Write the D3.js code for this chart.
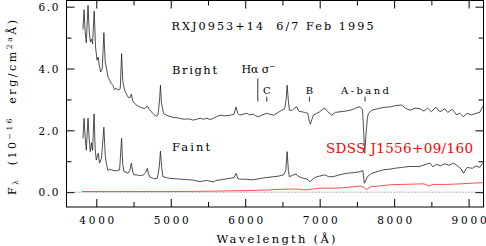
<!DOCTYPE html>
<html>
<head>
<meta charset="utf-8">
<script src="https://cdn.jsdelivr.net/npm/d3@7"></script>
<style>
body{margin:0;background:#fff;}
svg text{font-family:"DejaVu Serif","Liberation Serif",serif;fill:#000;white-space:pre;}
</style>
</head>
<body>
<div id="chart"></div>
<script>
// spectra (wavelength in A, flux in 1e-16 erg/cm2/s/A)
var brightWave = [3821,3836,3850,3866,3889,3905,3920,3935,3950,3972,
    3990,4010,4026,4040,4058,4080,4102,4120,4134,4157,
    4180,4200,4225,4245,4270,4290,4322,4340,4355,4380,
    4400,4425,4450,4471,4490,4515,4550,4580,4620,4650,
    4686,4710,4740,4770,4805,4830,4850,4862,4875,4903,
    4940,4990,5030,5100,5170,5240,5305,5350,5395,5440,
    5485,5530,5575,5620,5665,5730,5800,5850,5876,5900,
    5923,5970,6022,6060,6110,6140,6178,6230,6290,6330,
    6380,6430,6491,6530,6550,6563,6578,6593,6630,6660,
    6692,6720,6759,6800,6840,6860,6875,6895,6915,6960,
    7000,7040,7072,7110,7162,7210,7273,7340,7408,7470,
    7500,7542,7575,7590,7605,7620,7640,7655,7700,7780,
    7854,7950,8020,8100,8150,8212,8280,8347,8400,8450,
    8500,8560,8615,8680,8720,8780,8840,8880,8928,8980,
    9040,9100,9150,9190];
var brightFlux = [5.26,5.90,5.20,4.83,6.04,5.20,4.86,4.95,4.80,5.86,
    4.70,4.27,4.37,4.10,3.89,4.00,5.16,4.20,4.05,3.73,
    3.62,3.52,3.45,3.32,3.36,3.30,3.35,4.48,3.60,3.30,
    3.20,3.08,3.05,3.17,2.95,2.87,2.80,2.76,2.72,2.71,
    2.78,2.68,2.60,2.52,2.46,2.50,3.00,3.46,2.90,2.55,
    2.49,2.45,2.42,2.40,2.36,2.37,2.33,2.36,2.39,2.36,
    2.39,2.35,2.39,2.45,2.49,2.47,2.49,2.52,2.76,2.55,
    2.49,2.52,2.55,2.50,2.52,2.47,2.44,2.50,2.55,2.52,
    2.49,2.56,2.65,2.70,3.00,3.46,3.00,2.65,2.65,2.72,
    2.76,2.62,2.60,2.58,2.55,2.30,2.20,2.35,2.49,2.55,
    2.60,2.68,2.71,2.60,2.49,2.58,2.60,2.62,2.65,2.70,
    2.74,2.76,2.68,2.00,1.26,1.80,2.40,2.55,2.65,2.70,
    2.74,2.76,2.80,2.82,2.72,2.65,2.72,2.70,2.62,2.72,
    2.60,2.75,2.60,2.70,2.58,2.68,2.50,2.56,2.44,2.55,
    2.50,2.55,2.58,2.78];

var faintWave = [3821,3836,3850,3866,3889,3905,3920,3935,3950,3970,
    3985,4000,4026,4044,4070,4102,4120,4134,4157,4180,
    4201,4235,4268,4313,4340,4355,4372,4400,4425,4450,
    4471,4490,4506,4540,4581,4630,4660,4686,4700,4715,
    4750,4782,4820,4845,4862,4878,4895,4940,4983,5073,
    5200,5300,5395,5480,5575,5600,5665,5800,5850,5876,
    5900,5923,6000,6100,6200,6240,6380,6450,6515,6545,
    6563,6580,6593,6640,6680,6720,6780,6830,6870,6920,
    6960,7000,7072,7120,7180,7250,7360,7450,7542,7580,
    7600,7615,7640,7700,7850,7960,8000,8100,8200,8340,
    8400,8480,8520,8570,8620,8680,8740,8800,8850,8900,
    8930,8980,9050,9100,9150,9190];
var faintFlux = [1.74,2.39,1.80,1.36,2.39,1.70,1.31,1.60,1.35,2.53,
    1.40,1.04,1.26,0.94,1.10,2.10,1.20,0.94,0.70,0.74,
    0.72,0.70,0.69,0.72,1.74,0.90,0.66,0.65,0.61,0.70,
    0.94,0.65,0.56,0.56,0.54,0.55,0.62,0.77,0.60,0.50,
    0.46,0.43,0.45,0.80,1.33,0.80,0.50,0.47,0.45,0.43,
    0.41,0.39,0.34,0.38,0.33,0.37,0.40,0.45,0.47,0.61,
    0.45,0.42,0.42,0.40,0.44,0.46,0.50,0.52,0.56,0.70,
    1.31,0.70,0.50,0.55,0.59,0.50,0.45,0.42,0.34,0.45,
    0.50,0.52,0.56,0.50,0.50,0.55,0.61,0.63,0.66,0.70,
    0.29,0.35,0.50,0.61,0.72,0.75,0.77,0.80,0.83,0.83,
    0.88,0.94,0.82,0.90,0.85,0.92,0.87,0.94,0.85,0.75,
    0.61,0.80,0.77,0.85,0.80,0.95];

var sdssWave = [3810,4500,5000,5500,6000,6300,6560,6700,6800,6900,
    7000,7200,7300,7400,7550,7600,7630,7680,7800,7950,
    8100,8250,8400,8470,8520,8700,8900,9050,9190];
var sdssFlux = [0.02,0.02,0.02,0.03,0.05,0.07,0.10,0.10,0.07,0.10,
    0.13,0.13,0.14,0.16,0.20,0.15,0.08,0.17,0.20,0.24,
    0.25,0.26,0.27,0.20,0.25,0.25,0.27,0.29,0.31];

// identified features
var markerLabels = ["C", "B", "A-band"];
var markerWave = [6290, 6862, 7609];
var sigmaWave = 6169;

var xTicks = [4000,5000,6000,7000,8000,9000];
var xMinorTicks = [4500,5500,6500,7500,8500];
var yTicks = [0,2,4,6];
var yMinorTicks = [1,3,5];

var W = 486, H = 246,
    pLeft = 66.5, pRight = 483.5, pTop = 0.5, pBottom = 207;

var svg = d3.select("#chart").append("svg")
    .attr("width", W).attr("height", H);

var x = d3.scaleLinear().domain([3600, 9200]).range([pLeft, pRight]);
var y = d3.scaleLinear().domain([-0.48, 6.2]).range([pBottom, pTop]);

svg.append("clipPath").attr("id","plotclip")
   .append("rect").attr("x",pLeft).attr("y",pTop)
   .attr("width",pRight-pLeft).attr("height",pBottom-pTop);

// axes (ticks pointing inwards on all four sides)
function addAxis(axis, tx, ty) {
    var g = svg.append("g").attr("transform","translate("+tx+","+ty+")").call(axis);
    g.select(".domain").remove();
    g.selectAll(".tick line").attr("stroke","#000").attr("stroke-width",1);
    return g;
}
var fmt = function(d){ return ""; };
var gx = addAxis(d3.axisBottom(x).tickValues(xTicks).tickSize(-8).tickFormat(d3.format("d")), 0, pBottom);
addAxis(d3.axisBottom(x).tickValues(xMinorTicks).tickSize(-5).tickFormat(fmt), 0, pBottom);
addAxis(d3.axisTop(x).tickValues(xTicks).tickSize(-8).tickFormat(fmt), 0, pTop);
addAxis(d3.axisTop(x).tickValues(xMinorTicks).tickSize(-5).tickFormat(fmt), 0, pTop);
var gy = addAxis(d3.axisLeft(y).tickValues(yTicks).tickSize(-8).tickFormat(d3.format(".1f")), pLeft, 0);
addAxis(d3.axisLeft(y).tickValues(yMinorTicks).tickSize(-5).tickFormat(fmt), pLeft, 0);
addAxis(d3.axisRight(y).tickValues(yTicks).tickSize(-8).tickFormat(fmt), pRight, 0);
addAxis(d3.axisRight(y).tickValues(yMinorTicks).tickSize(-5).tickFormat(fmt), pRight, 0);

gx.selectAll(".tick text")
  .attr("font-family",null).attr("font-size",10.5)
  .attr("y",16.5).attr("dy",null)
  .attr("textLength",35).attr("lengthAdjust","spacing");
gy.selectAll(".tick text")
  .attr("font-family",null).attr("font-size",10.5)
  .attr("x",-8).attr("dy","0.36em")
  .attr("textLength",20).attr("lengthAdjust","spacing");

svg.append("rect")
   .attr("x",pLeft).attr("y",pTop)
   .attr("width",pRight-pLeft).attr("height",pBottom-pTop)
   .attr("fill","none").attr("stroke","#000").attr("stroke-width",1);

// zero level
svg.append("line")
   .attr("x1",pLeft).attr("x2",pRight)
   .attr("y1",y(0)).attr("y2",y(0))
   .attr("stroke","#444").attr("stroke-width",0.8)
   .attr("stroke-dasharray","1,2");

var line = d3.line()
    .x(function(d){ return x(d[0]); })
    .y(function(d){ return y(d[1]); });

var plot = svg.append("g").attr("clip-path","url(#plotclip)");
plot.append("path").datum(d3.zip(sdssWave, sdssFlux))
    .attr("d", line).attr("fill","none")
    .attr("stroke","#f22").attr("stroke-width",0.8);
plot.append("path").datum(d3.zip(faintWave, faintFlux))
    .attr("d", line).attr("fill","none")
    .attr("stroke","#222").attr("stroke-width",0.8);
plot.append("path").datum(d3.zip(brightWave, brightFlux))
    .attr("d", line).attr("fill","none")
    .attr("stroke","#222").attr("stroke-width",0.8);

// feature markers
svg.selectAll(".mark").data(markerWave).enter().append("line")
   .attr("x1",function(d){ return x(d); }).attr("x2",function(d){ return x(d); })
   .attr("y1",y(3.09)).attr("y2",y(2.93))
   .attr("stroke","#000").attr("stroke-width",0.8);
svg.selectAll(".mlab").data(markerWave).enter().append("text")
   .attr("x",function(d){ return x(d); }).attr("y",94.3)
   .attr("text-anchor","middle").attr("font-size",10)
   .text(function(d,i){ return markerLabels[i]; })
   .each(function(d,i){ if (markerLabels[i] === "A-band") d3.select(this).attr("textLength",48).attr("lengthAdjust","spacing"); });
svg.append("line")
   .attr("x1",x(sigmaWave)).attr("x2",x(sigmaWave))
   .attr("y1",y(3.68)).attr("y2",y(2.93))
   .attr("stroke","#000").attr("stroke-width",0.8);
var hs = svg.append("text").attr("x",241.5).attr("y",72.7).attr("font-size",11)
   .attr("textLength",34).attr("lengthAdjust","spacing");
hs.append("tspan").text("H\u03b1 \u03c3");
hs.append("tspan").attr("font-size",7.5).attr("dy",-4).text("\u2212");

// titles
svg.append("text").attr("x",171.5).attr("y",30).attr("font-size",11.2)
   .attr("textLength",202).attr("lengthAdjust","spacing")
   .text("RXJ0953+14  6/7 Feb 1995");
svg.append("text").attr("x",172).attr("y",74).attr("font-size",11.5)
   .attr("textLength",45).attr("lengthAdjust","spacing").text("Bright");
svg.append("text").attr("x",172).attr("y",150.5).attr("font-size",11.5)
   .attr("textLength",38).attr("lengthAdjust","spacing").text("Faint");
svg.append("text").attr("x",326).attr("y",153.3).attr("font-size",13.5)
   .attr("textLength",147).attr("lengthAdjust","spacing")
   .style("fill","#f00").text("SDSS J1556+09/160");

svg.append("text").attr("x",216.5).attr("y",242.5).attr("font-size",11.5)
   .attr("textLength",119).attr("lengthAdjust","spacing")
   .text("Wavelength (\u00c5)");

var yl = svg.append("text").attr("transform","translate(15.5,195) rotate(-90)")
   .attr("font-size",11).attr("textLength",175).attr("lengthAdjust","spacing");
yl.append("tspan").text("F");
yl.append("tspan").attr("font-size",7.5).attr("dy",2.5).text("\u03bb");
yl.append("tspan").attr("dy",-2.5).text("  (10");
yl.append("tspan").attr("font-size",7.5).attr("dy",-4).text("\u221216");
yl.append("tspan").attr("dy",4).text("  erg/cm");
yl.append("tspan").attr("font-size",7.5).attr("dy",-4).text("2");
yl.append("tspan").attr("font-size",7.5).attr("dy",0).text("a");
yl.append("tspan").attr("dy",4).text("\u00c5)");
</script>
</body>
</html>
